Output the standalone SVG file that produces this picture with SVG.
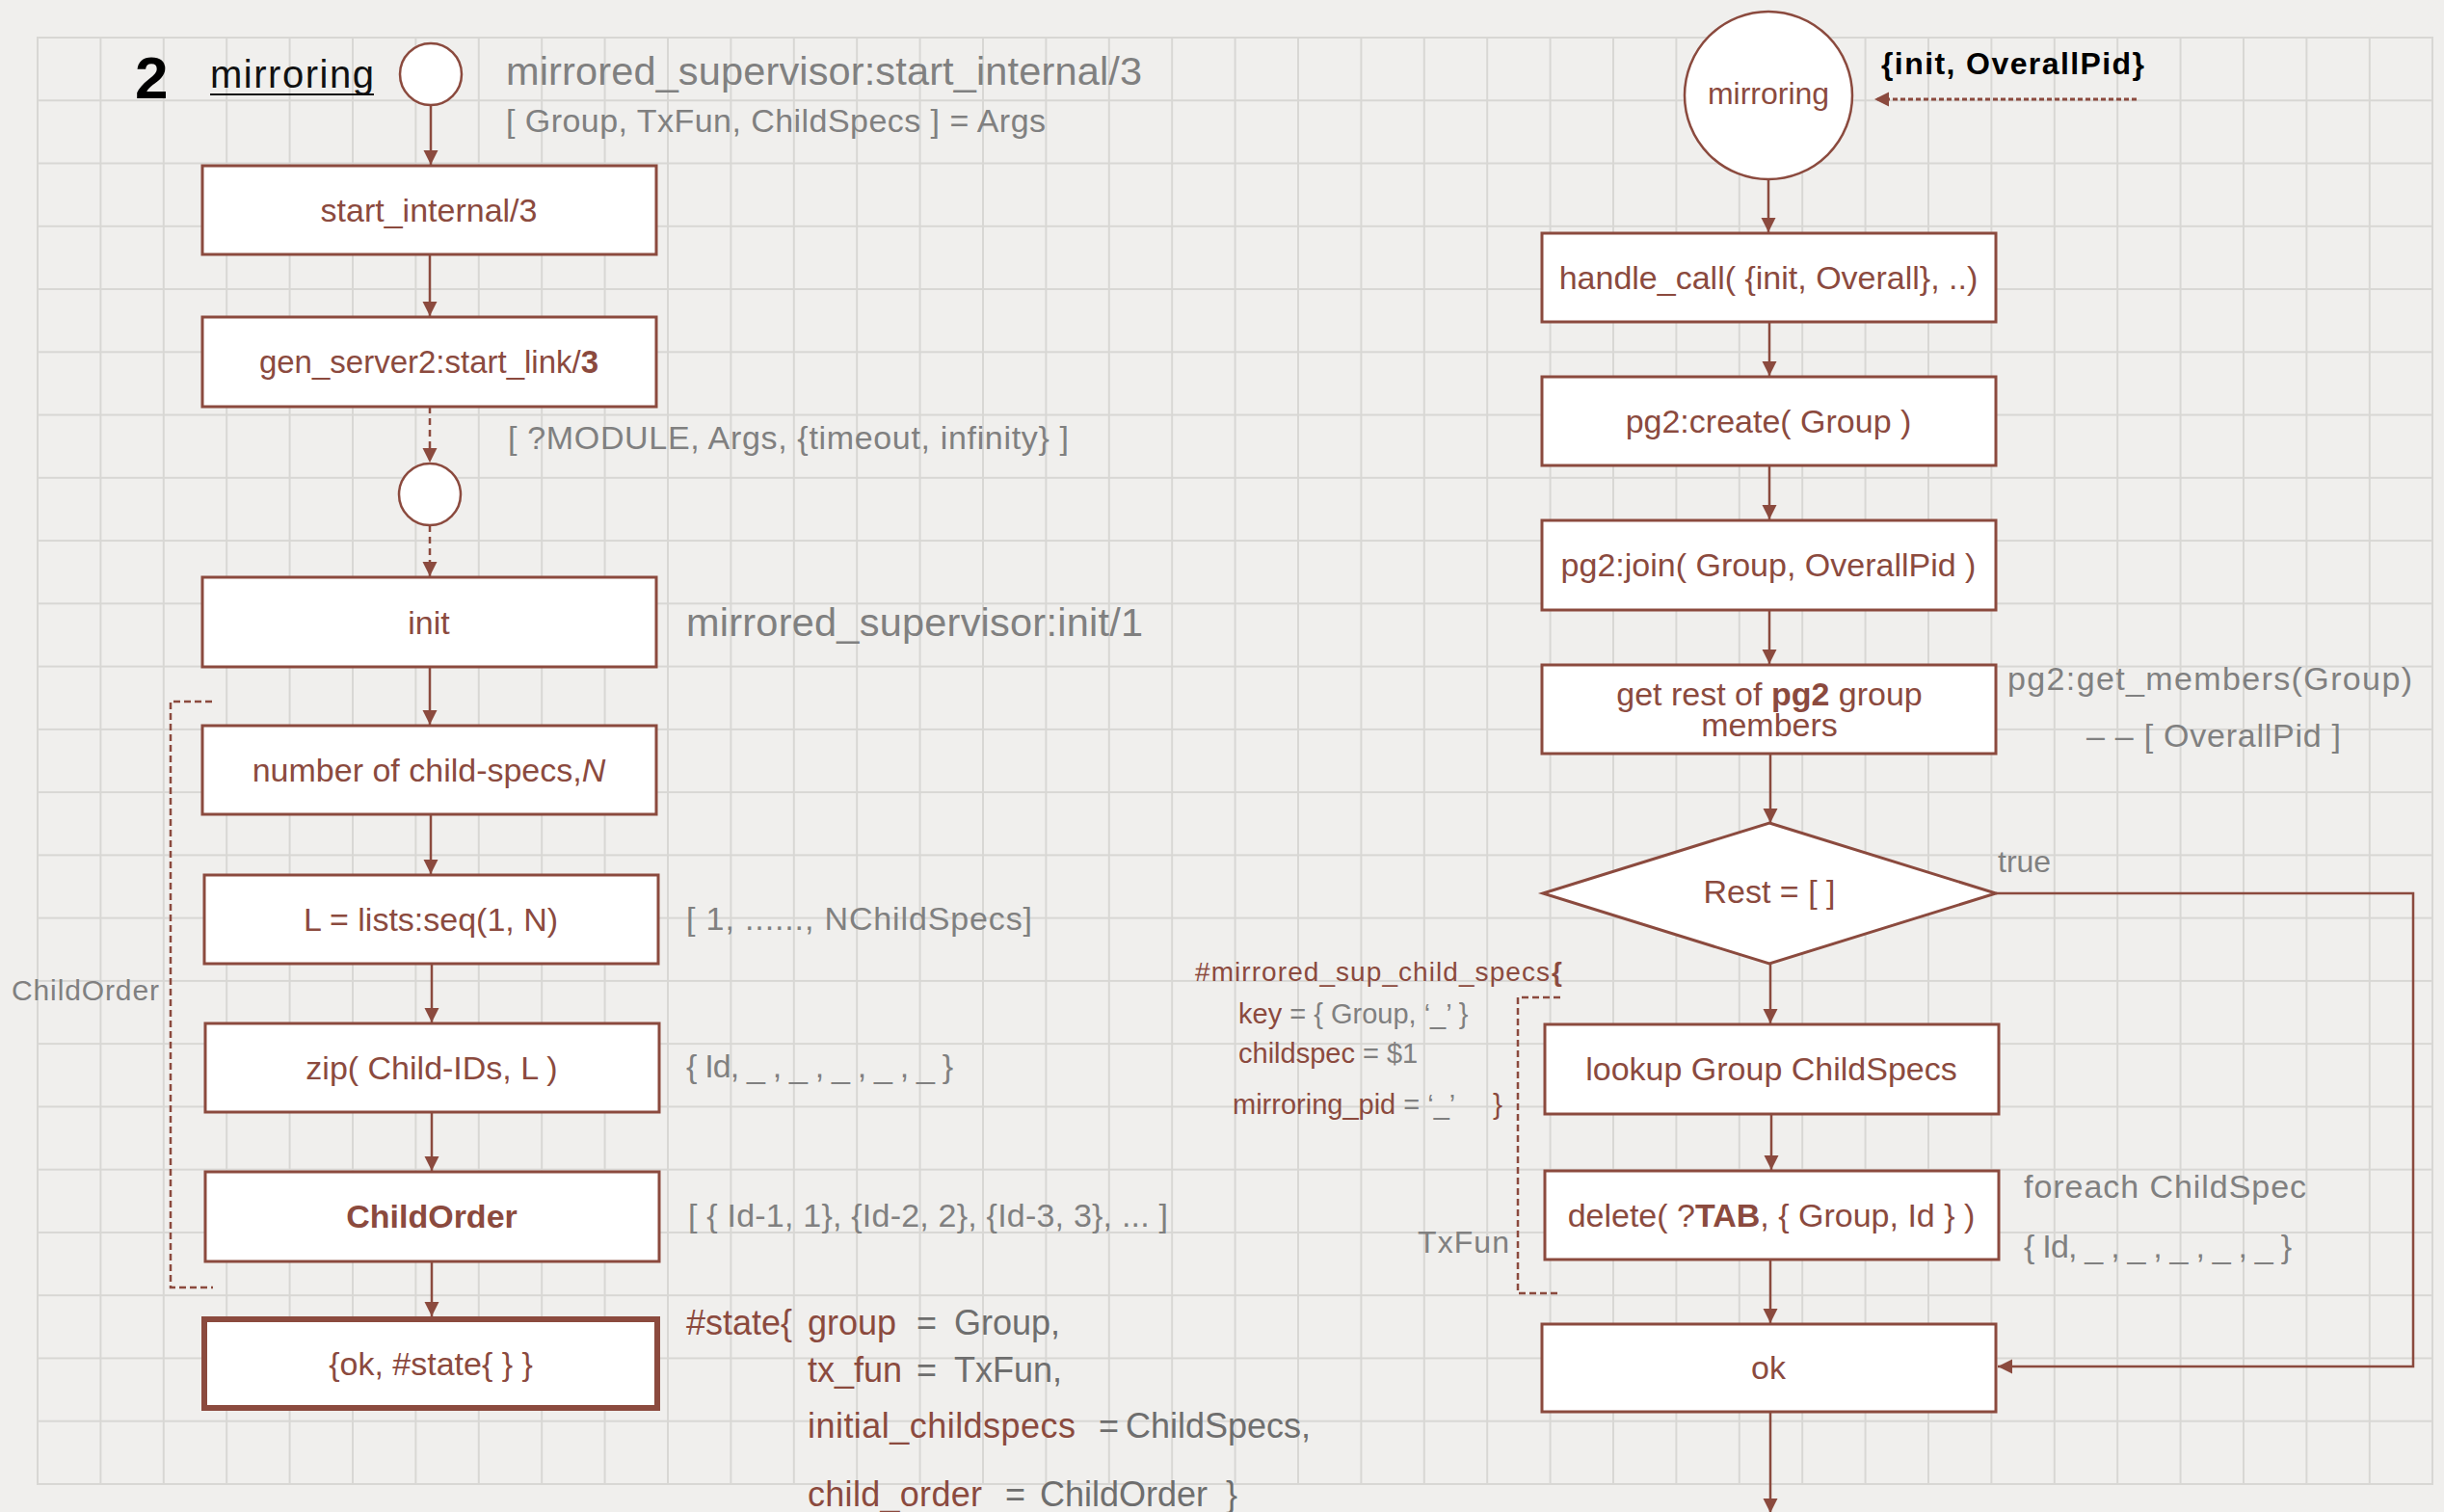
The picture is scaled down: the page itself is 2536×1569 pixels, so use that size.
<svg xmlns="http://www.w3.org/2000/svg" width="2536" height="1569" viewBox="0 0 2536 1569">
  <style>
    .box { fill: #ffffff; stroke: #8b4a3e; stroke-width: 3; }
    .box-heavy { fill: #ffffff; stroke: #8b4a3e; stroke-width: 6; }
    .node-text { font-family: "Liberation Sans", Arial, sans-serif; fill: #8b4a3e; text-anchor: middle; }
    .note { font-family: "Liberation Sans", Arial, sans-serif; fill: #808080; }
    .note-brown { font-family: "Liberation Sans", Arial, sans-serif; fill: #8b4a3e; }
    .note-dark { font-family: "Liberation Sans", Arial, sans-serif; fill: #6e6e6e; }
    .gray { fill: #808080; }
    .link { fill: none; stroke: #8b4a3e; stroke-width: 2.5; }
    .link-dashed { fill: none; stroke: #8b4a3e; stroke-width: 2.5; stroke-dasharray: 7 5; }
    .bracket { fill: none; stroke: #8b4a3e; stroke-width: 2.5; stroke-dasharray: 7 4; }
    .dotted { fill: none; stroke: #8b4a3e; stroke-width: 3; stroke-dasharray: 5 3; }
  </style>
  <defs>
    <marker id="arrow" markerUnits="userSpaceOnUse" markerWidth="16" markerHeight="16" refX="15" refY="7.5" orient="auto">
      <path d="M0,0 L15,7.5 L0,15 z" fill="#8b4a3e"/>
    </marker>
    <pattern id="grid" x="38" y="38" width="65.4" height="65.26" patternUnits="userSpaceOnUse">
      <path d="M1,0 V65.26 M0,1 H65.4" stroke="#d8d7d4" stroke-width="2" fill="none"/>
    </pattern>
  </defs>

  <!-- paper -->
  <rect x="0" y="0" width="2536" height="1569" fill="#f0efed"/>
  <rect x="38" y="38" width="2487" height="1503" fill="url(#grid)"/>
  <path d="M2524,38 V1541 M38,1540 H2525" stroke="#d8d7d4" stroke-width="2" fill="none"/>

  <!-- title -->
  <g id="title">
    <text x="140" y="102" font-family="Liberation Sans, Arial, sans-serif" font-size="62" font-weight="bold" fill="#000">2</text>
    <text x="218" y="91" font-family="Liberation Sans, Arial, sans-serif" font-size="40" fill="#111" textLength="170">mirroring</text>
    <line x1="218" y1="98" x2="388" y2="98" stroke="#111" stroke-width="2"/>
  </g>

  <!-- connectors -->
  <g id="connectors">
    <path class="link" d="M447,109 V171" marker-end="url(#arrow)"/>
    <path class="link" d="M446,264 V328" marker-end="url(#arrow)"/>
    <path class="link-dashed" d="M446,422 V480" marker-end="url(#arrow)"/>
    <path class="link-dashed" d="M446,545 V598" marker-end="url(#arrow)"/>
    <path class="link" d="M446,692 V752" marker-end="url(#arrow)"/>
    <path class="link" d="M447,846 V907" marker-end="url(#arrow)"/>
    <path class="link" d="M448,1000 V1061" marker-end="url(#arrow)"/>
    <path class="link" d="M448,1154 V1215" marker-end="url(#arrow)"/>
    <path class="link" d="M448,1309 V1366" marker-end="url(#arrow)"/>
    <path class="bracket" d="M220,728 H177 V1336 H221"/>

    <path class="link" d="M1835,186 V241" marker-end="url(#arrow)"/>
    <path class="link" d="M1836,334 V390" marker-end="url(#arrow)"/>
    <path class="link" d="M1836,483 V539" marker-end="url(#arrow)"/>
    <path class="link" d="M1836,633 V689" marker-end="url(#arrow)"/>
    <path class="link" d="M1837,782 V854" marker-end="url(#arrow)"/>
    <path class="link" d="M1837,1000 V1062" marker-end="url(#arrow)"/>
    <path class="link" d="M1838,1156 V1214" marker-end="url(#arrow)"/>
    <path class="link" d="M1837,1308 V1373" marker-end="url(#arrow)"/>
    <path class="link" d="M1837,1465 V1570" marker-end="url(#arrow)"/>
    <path class="link" d="M2071,927 H2504 V1418 H2073" marker-end="url(#arrow)"/>
    <path class="dotted" d="M2217,103 H1945" marker-end="url(#arrow)"/>
    <path class="bracket" d="M1619,1035 H1575 V1342 H1619"/>
  </g>

  <!-- left column -->
  <g id="start">
    <circle cx="447" cy="77" r="32" fill="#fff" stroke="#8b4a3e" stroke-width="2.5"/>
  </g>
  <g id="start-internal" font-size="34">
    <rect class="box" x="210" y="172" width="471" height="92"/>
    <text class="node-text" x="445" y="230">start_internal/3</text>
  </g>
  <g id="gen-server-start-link" font-size="33">
    <rect class="box" x="210" y="329" width="471" height="93"/>
    <text class="node-text" x="445" y="387">gen_server2:start_link/<tspan font-weight="bold">3</tspan></text>
  </g>
  <g id="spawn">
    <circle cx="446" cy="513" r="32" fill="#fff" stroke="#8b4a3e" stroke-width="2.5"/>
  </g>
  <g id="init" font-size="34">
    <rect class="box" x="210" y="599" width="471" height="93"/>
    <text class="node-text" x="445" y="658">init</text>
  </g>
  <g id="count-child-specs" font-size="34">
    <rect class="box" x="210" y="753" width="471" height="92"/>
    <text class="node-text" x="445" y="811">number of child-specs,<tspan font-style="italic">N</tspan></text>
  </g>
  <g id="seq" font-size="34">
    <rect class="box" x="212" y="908" width="471" height="92"/>
    <text class="node-text" x="447" y="966">L = lists:seq(1, N)</text>
  </g>
  <g id="zip" font-size="34">
    <rect class="box" x="213" y="1062" width="471" height="92"/>
    <text class="node-text" x="448" y="1120">zip( Child-IDs, L )</text>
  </g>
  <g id="child-order" font-size="34">
    <rect class="box" x="213" y="1216" width="471" height="93"/>
    <text class="node-text" x="448" y="1274" font-weight="bold">ChildOrder</text>
  </g>
  <g id="ok-state" font-size="34">
    <rect class="box-heavy" x="212" y="1369" width="470" height="92"/>
    <text class="node-text" x="447" y="1427">{ok, #state{ } }</text>
  </g>

  <!-- left annotations -->
  <g id="left-notes" font-size="34">
    <text class="note" x="525" y="88" font-size="41.5" textLength="660">mirrored_supervisor:start_internal/3</text>
    <text class="note" x="525" y="137" textLength="560">[ Group, TxFun, ChildSpecs ] = Args</text>
    <text class="note" x="527" y="466" textLength="582">[ ?MODULE, Args, {timeout, infinity} ]</text>
    <text class="note" x="712" y="660" font-size="41.5" textLength="474">mirrored_supervisor:init/1</text>
    <text class="note" x="712" y="965" textLength="359">[ 1, ......, NChildSpecs]</text>
    <text class="note" x="712" y="1118" textLength="277">{ Id, _ , _ , _ , _ , _ }</text>
    <text class="note" x="714" y="1273" textLength="498">[ { Id-1, 1}, {Id-2, 2}, {Id-3, 3}, ... ]</text>
    <text class="note" x="12" y="1038" font-size="30" textLength="153">ChildOrder</text>

    <text class="note-brown" x="712" y="1385" font-size="36">#state{</text>
    <text class="note-brown" x="838" y="1385" font-size="36">group</text>
    <text class="note-dark" x="951" y="1385" font-size="36">=</text>
    <text class="note-dark" x="990" y="1385" font-size="36">Group,</text>
    <text class="note-brown" x="838" y="1434" font-size="36">tx_fun</text>
    <text class="note-dark" x="951" y="1434" font-size="36">=</text>
    <text class="note-dark" x="990" y="1434" font-size="36">TxFun,</text>
    <text class="note-brown" x="838" y="1492" font-size="36" textLength="278">initial_childspecs</text>
    <text class="note-dark" x="1140" y="1492" font-size="36">=</text>
    <text class="note-dark" x="1168" y="1492" font-size="36">ChildSpecs,</text>
    <text class="note-brown" x="838" y="1563" font-size="36" textLength="181">child_order</text>
    <text class="note-dark" x="1043" y="1563" font-size="36">=</text>
    <text class="note-dark" x="1079" y="1563" font-size="36">ChildOrder</text>
    <text class="note-dark" x="1272" y="1563" font-size="36">}</text>
  </g>

  <!-- right column -->
  <g id="mirroring" font-size="32">
    <circle cx="1835" cy="99" r="87" fill="#fff" stroke="#8b4a3e" stroke-width="2.5"/>
    <text class="node-text" x="1835" y="108">mirroring</text>
  </g>
  <g id="handle-call" font-size="34">
    <rect class="box" x="1600" y="242" width="471" height="92"/>
    <text class="node-text" x="1835" y="300">handle_call( {init, Overall}, ..)</text>
  </g>
  <g id="pg2-create" font-size="34">
    <rect class="box" x="1600" y="391" width="471" height="92"/>
    <text class="node-text" x="1835" y="449">pg2:create( Group )</text>
  </g>
  <g id="pg2-join" font-size="34">
    <rect class="box" x="1600" y="540" width="471" height="93"/>
    <text class="node-text" x="1835" y="598">pg2:join( Group, OverallPid )</text>
  </g>
  <g id="get-members" font-size="34">
    <rect class="box" x="1600" y="690" width="471" height="92"/>
    <text class="node-text" x="1836" y="732">get rest of <tspan font-weight="bold">pg2</tspan> group</text>
    <text class="node-text" x="1836" y="764">members</text>
  </g>
  <g id="rest-empty" font-size="34">
    <polygon class="box" points="1836,854 2071,927 1836,1000 1601,927"/>
    <text class="node-text" x="1836" y="937">Rest = [ ]</text>
  </g>
  <g id="lookup" font-size="34">
    <rect class="box" x="1603" y="1063" width="471" height="93"/>
    <text class="node-text" x="1838" y="1121">lookup Group ChildSpecs</text>
  </g>
  <g id="delete" font-size="34">
    <rect class="box" x="1603" y="1215" width="471" height="92"/>
    <text class="node-text" x="1838" y="1273">delete( ?<tspan font-weight="bold">TAB</tspan>, { Group, Id } )</text>
  </g>
  <g id="ok" font-size="34">
    <rect class="box" x="1600" y="1374" width="471" height="91"/>
    <text class="node-text" x="1835" y="1431">ok</text>
  </g>

  <!-- right annotations -->
  <g id="right-notes" font-size="34">
    <text x="1952" y="77" font-family="Liberation Sans, Arial, sans-serif" font-size="32" font-weight="bold" fill="#000" textLength="273">{init, OverallPid}</text>
    <text class="note" x="2083" y="716" textLength="420">pg2:get_members(Group)</text>
    <text class="note" x="2165" y="775" textLength="264">– – [ OverallPid ]</text>
    <text class="note" x="2073" y="905" font-size="32">true</text>
    <text class="note" x="2100" y="1243" textLength="293">foreach ChildSpec</text>
    <text class="note" x="2100" y="1305" textLength="278">{ Id, _ , _ , _ , _ , _ }</text>
    <text class="note" x="1471" y="1300" font-size="32" textLength="95">TxFun</text>

    <text class="note-brown" x="1240" y="1018" font-size="28" textLength="368">#mirrored_sup_child_specs</text>
    <text class="note-brown" x="1610" y="1018" font-size="28" font-weight="bold">{</text>
    <text class="note-brown" x="1285" y="1062" font-size="29">key<tspan class="gray"> = { Group, ‘_’ }</tspan></text>
    <text class="note-brown" x="1285" y="1103" font-size="29">childspec<tspan class="gray"> = $1</tspan></text>
    <text class="note-brown" x="1279" y="1156" font-size="29">mirroring_pid<tspan class="gray"> = ‘_’</tspan></text>
    <text class="note-brown" x="1549" y="1156" font-size="30">}</text>
  </g>
</svg>
